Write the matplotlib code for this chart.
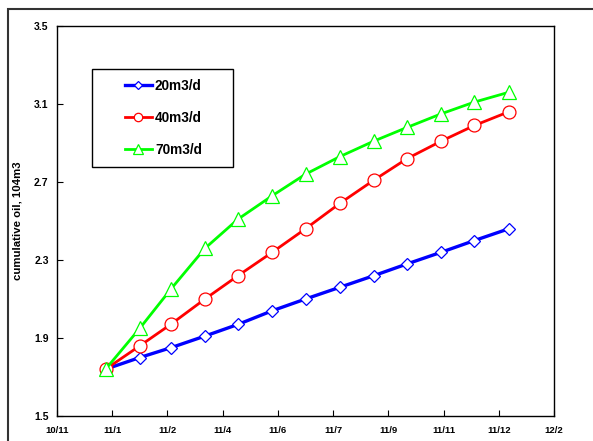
import datetime as dt
import matplotlib
matplotlib.use('Agg')
import matplotlib.pyplot as plt
import matplotlib.dates as mdates
from matplotlib.patches import Rectangle
from matplotlib.ticker import FuncFormatter

plt.rcParams['font.family'] = ['Liberation Sans', 'DejaVu Sans']
plt.rcParams['font.weight'] = 'bold'

# monthly points, 2011-01 .. 2012-01
months = [dt.date(2011, 1, 1)] + [dt.date(2011, m, 1) for m in range(2, 13)] + [dt.date(2012, 1, 1)]
oil_20 = [1.74, 1.80, 1.85, 1.91, 1.97, 2.04, 2.10, 2.16, 2.22, 2.28, 2.34, 2.40, 2.46]
oil_40 = [1.74, 1.86, 1.97, 2.10, 2.22, 2.34, 2.46, 2.59, 2.71, 2.82, 2.91, 2.99, 3.06]
oil_70 = [1.74, 1.95, 2.15, 2.36, 2.51, 2.63, 2.74, 2.83, 2.91, 2.98, 3.05, 3.11, 3.16]
labels = ['20m3/d', '40m3/d', '70m3/d']
y_ticks = [1.5, 1.9, 2.3, 2.7, 3.1, 3.5]

# excel style date axis: min 40500, step 50 days
x_start = dt.date(2010, 11, 18)
x_ticks = [x_start + dt.timedelta(days=50 * i) for i in range(10)]

fig = plt.figure(figsize=(5.93, 4.41), dpi=100)
ax = fig.add_axes([57 / 593, 25 / 441, 497 / 593, 390 / 441])

ax.plot(months, oil_20, color='#0000FF', lw=2.4, marker='D', ms=6.5,
        mfc='white', mec='#0000FF', mew=0.9, label=labels[0], zorder=3)
ax.plot(months, oil_40, color='#FF0000', lw=2.0, marker='o', ms=9.3,
        mfc='white', mec='#FF0000', mew=0.9, label=labels[1], zorder=3)
ax.plot(months, oil_70, color='#00FF00', lw=2.0, marker='^', ms=10,
        mfc='white', mec='#00FF00', mew=0.9, label=labels[2], zorder=3)

ax.set_xlim(x_ticks[0], x_ticks[-1])
ax.set_xticks(x_ticks)
ax.xaxis.set_major_formatter(FuncFormatter(
    lambda v, pos: mdates.num2date(v).strftime('%y/') + str(mdates.num2date(v).month)))
ax.set_ylim(1.5, 3.5)
ax.set_yticks(y_ticks)
ax.yaxis.set_major_formatter(FuncFormatter(lambda v, pos: '%.1f' % v))

ax.tick_params(direction='in', length=4, width=0.8)
ax.tick_params(axis='x', labelsize=6.8, pad=7)
ax.tick_params(axis='y', labelsize=7.5, pad=6)
for s in ax.spines.values():
    s.set_linewidth(1.0)

ax.set_ylabel('cumulative oil, 104m3', fontsize=8.2, fontweight='bold')
ax.yaxis.set_label_coords(-0.07, 0.5)

# legend frame drawn separately
ax.add_patch(Rectangle((0.0698, 0.639), 0.2837, 0.2505, transform=ax.transAxes,
                       fill=False, ec='black', lw=1.0, zorder=4))
leg = ax.legend(loc='upper left', bbox_to_anchor=(0.1368, 0.864), frameon=False,
                fontsize=9.8, handlelength=1.95, handletextpad=0.25,
                labelspacing=1.33, borderpad=0, borderaxespad=0, markerscale=0.65)
for t in leg.get_texts():
    t.set_fontweight('bold')

# outer chart border
fig.patches.append(Rectangle((8 / 593, -0.1), 1.2, (441 - 9) / 441 + 0.1,
                             transform=fig.transFigure, fill=False,
                             ec='#333333', lw=1.5))

fig.savefig('out.png', dpi=100)
